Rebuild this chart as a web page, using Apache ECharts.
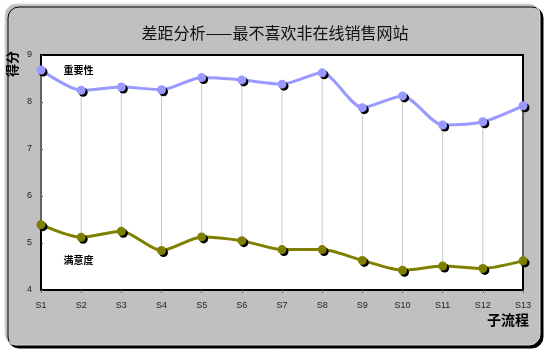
<!DOCTYPE html>
<html>
<head>
<meta charset="utf-8">
<style>
  html, body { margin: 0; padding: 0; background: #fff; }
  #chart { width: 550px; height: 354px; }
</style>
<script src="https://cdn.jsdelivr.net/npm/echarts@6/dist/echarts.min.js"></script>
</head>
<body>
<div id="chart"></div>
<script>
// 子流程
let categories = ['S1','S2','S3','S4','S5','S6','S7','S8','S9','S10','S11','S12','S13'];
// 重要性 / 满意度 得分
let importance = [8.68, 8.25, 8.32, 8.26, 8.52, 8.47, 8.38, 8.62, 7.88, 8.13, 7.51, 7.58, 7.92];
let satisfaction = [5.39, 5.12, 5.25, 4.84, 5.13, 5.05, 4.86, 4.86, 4.63, 4.42, 4.51, 4.46, 4.62];
let yTicks = [4, 5, 6, 7, 8, 9];

let font = 'Liberation Sans, Arial, sans-serif';
let cjk = '"Noto Sans CJK SC", sans-serif';

let dropData = categories.map((c, i) => [i, importance[i], satisfaction[i]]);

function lineSeries(name, data, color, labelOffset) {
  return {
    name: name,
    type: 'line',
    data: data,
    smooth: 0.25,
    z: 3,
    symbol: 'circle',
    symbolSize: 9,
    lineStyle: { color: color, width: 3 },
    itemStyle: {
      color: color,
      shadowColor: '#000',
      shadowOffsetX: 2,
      shadowOffsetY: 2,
      shadowBlur: 0
    },
    label: {
      show: true,
      position: 'right',
      distance: 18,
      offset: labelOffset,
      color: '#000',
      fontFamily: cjk,
      fontSize: 10,
      fontWeight: 'bold',
      formatter: p => (p.dataIndex === 0 ? name : '')
    },
    emphasis: { disabled: true }
  };
}

let chart = echarts.init(document.getElementById('chart'));
chart.setOption({
  animation: false,
  backgroundColor: '#fff',
  title: {
    text: '差距分析——最不喜欢非在线销售网站',
    left: 'center',
    top: 20,
    textStyle: { fontFamily: cjk, fontSize: 16, fontWeight: 'normal', color: '#111' }
  },
  graphic: [
    {
      type: 'rect',
      z: -10,
      shape: { x: 5, y: 4, width: 535, height: 341, r: 11 },
      style: { fill: '#c0c0c0', stroke: '#d8d8d8', lineWidth: 1, shadowColor: '#000', shadowOffsetX: 3, shadowOffsetY: 3, shadowBlur: 0 }
    },
    {
      type: 'text',
      x: 6,
      y: 77,
      rotation: Math.PI / 2,
      style: { text: '得分', font: 'bold 13px "Noto Sans CJK SC", sans-serif', fill: '#000', textVerticalAlign: 'top' }
    },
    {
      type: 'text',
      x: 487,
      y: 313,
      style: { text: '子流程', font: 'bold 14px "Noto Sans CJK SC", sans-serif', fill: '#000' }
    }
  ],
  grid: {
    left: 41, right: 27, top: 55, bottom: 64,
    show: true,
    backgroundColor: '#fff',
    borderColor: '#000',
    borderWidth: 2
  },
  xAxis: {
    type: 'category',
    data: categories,
    boundaryGap: false,
    axisLine: { lineStyle: { color: '#000', width: 2 } },
    axisTick: { show: true, length: 3, lineStyle: { color: '#666' } },
    axisLabel: { color: '#222', fontFamily: font, fontSize: 9, margin: 11 },
    splitLine: { show: false }
  },
  yAxis: {
    type: 'value',
    min: 4,
    max: 9,
    interval: 1,
    axisLine: { show: true, lineStyle: { color: '#000', width: 2 } },
    axisTick: { show: true, inside: true, length: 2, lineStyle: { color: '#444' } },
    axisLabel: { color: '#222', fontFamily: font, fontSize: 9, margin: 9,
      formatter: v => (yTicks.indexOf(v) >= 0 ? String(v) : '') },
    splitLine: { show: false }
  },
  series: [
    {
      name: 'drop',
      type: 'custom',
      z: 1,
      silent: true,
      data: dropData,
      renderItem: function (params, api) {
        let top = api.coord([api.value(0), api.value(1)]);
        let bot = api.coord([api.value(0), api.value(2)]);
        return {
          type: 'line',
          shape: { x1: top[0], y1: top[1], x2: bot[0], y2: bot[1] },
          style: { stroke: '#c8c8c8', lineWidth: 1 }
        };
      }
    },
    lineSeries('重要性', importance, '#9999ff', [0, 0]),
    lineSeries('满意度', satisfaction, '#808000', [0, 36])
  ]
});
</script>
</body>
</html>
